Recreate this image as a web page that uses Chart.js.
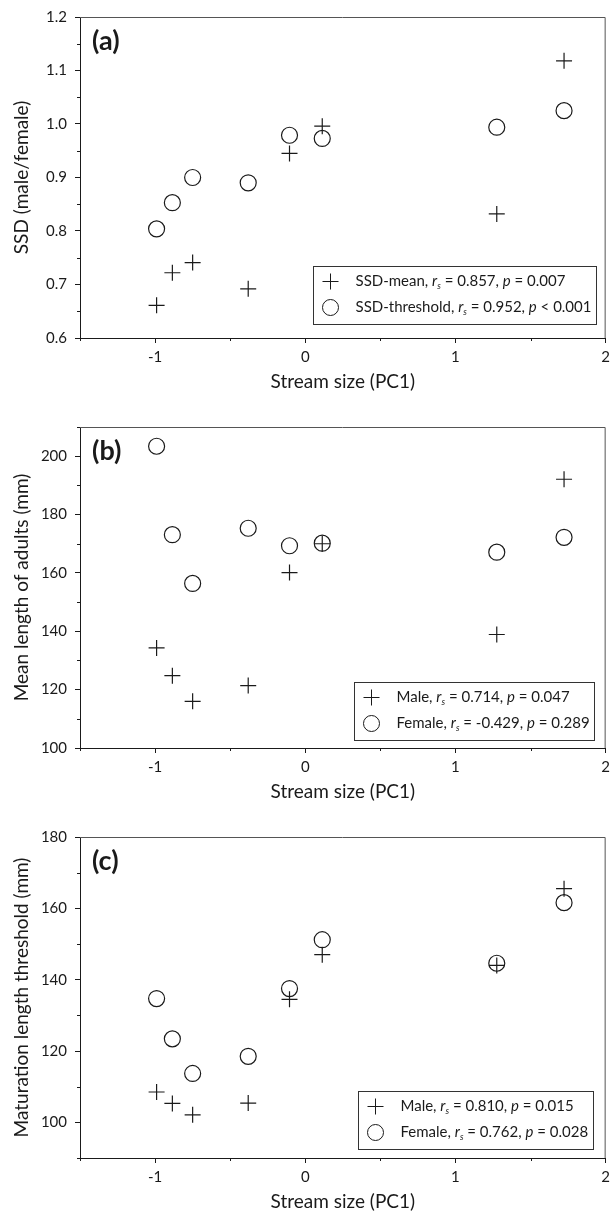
<!DOCTYPE html>
<html>
<head>
<meta charset="utf-8">
<script src="https://cdn.jsdelivr.net/npm/chart.js@4.4.1/dist/chart.umd.min.js"></script>
<style>
  html, body { margin: 0; padding: 0; background: #fff; overflow: hidden; }
  canvas { display: block; }
</style>
</head>
<body>
<canvas id="chartA" width="615" height="410"></canvas>
<canvas id="chartB" width="615" height="410"></canvas>
<canvas id="chartC" width="615" height="410"></canvas>
<script>
// stream size (PC1) of the eight streams, same for all panels
const streamSize = [-0.99, -0.885, -0.75, -0.38, -0.105, 0.113, 1.275, 1.723];

// (a) sexual size dimorphism (male/female)
const ssdMean = [0.661, 0.722, 0.741, 0.692, 0.945, 0.996, 0.832, 1.118];
const ssdThreshold = [0.804, 0.853, 0.900, 0.890, 0.979, 0.973, 0.994, 1.025];

// (b) mean length of adults (mm)
const maleMeanLength = [134.3, 124.8, 116.0, 121.4, 160.1, 170.0, 138.9, 192.1];
const femaleMeanLength = [203.4, 173.1, 156.4, 175.3, 169.3, 170.2, 167.1, 172.2];

// (c) maturation length threshold (mm)
const maleThreshold = [108.5, 105.3, 102.1, 105.4, 134.5, 147.0, 144.0, 165.5];
const femaleThreshold = [134.7, 123.4, 113.7, 118.5, 137.5, 151.2, 144.6, 161.6];

// tick values
const xTicks = [-1, 0, 1, 2];
const xMinorTicks = [-1.5, -0.5, 0.5, 1.5];
const ssdTicks = [0.6, 0.7, 0.8, 0.9, 1.0, 1.1, 1.2];
const ssdMinorTicks = [0.65, 0.75, 0.85, 0.95, 1.05, 1.15];
const meanLengthTicks = [100, 120, 140, 160, 180, 200];
const meanLengthMinorTicks = [110, 130, 150, 170, 190, 210];
const thresholdTicks = [100, 120, 140, 160, 180];
const thresholdMinorTicks = [90, 110, 130, 150, 170];

// legend rows: label, Spearman r_s, p
const ssdLegend = [['SSD-mean', '0.857', '= 0.007'], ['SSD-threshold', '0.952', '< 0.001']];
const meanLengthLegend = [['Male', '0.714', '= 0.047'], ['Female', '-0.429', '= 0.289']];
const thresholdLegend = [['Male', '0.810', '= 0.015'], ['Female', '0.762', '= 0.028']];

const FONT = 'Lato, "Noto Sans", sans-serif';
const INK = '#1a1a1a';
const LEGEND_SIZE = 15;

function segFont(s) {
  const fs = s.sub ? LEGEND_SIZE * 0.6 : LEGEND_SIZE;
  return (s.it ? 'italic ' : '') + fs + 'px ' + FONT;
}

function legendSegs(row) {
  return [
    { t: row[0] + ', ' },
    { t: 'r', it: true },
    { t: 's', it: true, sub: true },
    { t: ' = ' + row[1] + ', ' },
    { t: 'p', it: true },
    { t: ' ' + row[2] }
  ];
}

function textWidth(ctx, segs) {
  let w = 0;
  segs.forEach(s => { ctx.font = segFont(s); w += ctx.measureText(s.t).width; });
  return w;
}

function drawRich(ctx, segs, x, y) {
  segs.forEach(s => {
    ctx.font = segFont(s);
    ctx.fillText(s.t, x, y + (s.sub ? LEGEND_SIZE * 0.32 : 0));
    x += ctx.measureText(s.t).width;
  });
}

// box edges, minor ticks, panel letter and legend
const decor = {
  id: 'decor',
  afterDraw(chart, args, opts) {
    const { ctx, chartArea: a, scales: { x, y } } = chart;
    ctx.save();
    ctx.lineWidth = 1;
    ctx.strokeStyle = '#555';
    ctx.beginPath();
    ctx.moveTo(a.left, a.top + 0.5);
    ctx.lineTo(a.right - 0.5, a.top + 0.5);
    ctx.lineTo(a.right - 0.5, a.bottom);
    ctx.stroke();

    ctx.strokeStyle = INK;
    ctx.beginPath();
    xMinorTicks.forEach(v => {
      const px = Math.round(x.getPixelForValue(v)) + 0.5;
      ctx.moveTo(px, a.bottom); ctx.lineTo(px, a.bottom + 3);
    });
    opts.yMinor.forEach(v => {
      const py = Math.round(y.getPixelForValue(v)) + 0.5;
      ctx.moveTo(a.left, py); ctx.lineTo(a.left - 3, py);
    });
    ctx.stroke();

    // panel letter
    ctx.fillStyle = INK;
    ctx.textBaseline = 'middle';
    ctx.font = 'bold 27px ' + FONT;
    ctx.fillText(opts.letter, a.left + 12, a.top + 24);

    // legend
    const maxW = Math.max(...opts.legend.map(row => textWidth(ctx, legendSegs(row))));
    const bw = Math.round(42 + maxW + 5), bh = 58;
    const bx = Math.round(a.right - opts.legendRight - bw) + 0.5;
    const by = Math.round(a.bottom - opts.legendBottom - bh) + 0.5;
    ctx.fillStyle = '#fff';
    ctx.fillRect(bx, by, bw, bh);
    ctx.strokeStyle = '#333';
    ctx.strokeRect(bx, by, bw, bh);
    const styles = ['cross', 'circle'];
    opts.legend.forEach((row, i) => {
      const cy = by + 15 + i * 26;
      ctx.strokeStyle = INK;
      ctx.fillStyle = '#fff';
      Chart.helpers.drawPoint(ctx, { pointStyle: styles[i], radius: 8, borderWidth: 1.2, rotation: 0 }, bx + 17, cy);
      ctx.fillStyle = INK;
      drawRich(ctx, legendSegs(row), bx + 42, cy);
    });
    ctx.restore();
  }
};

function makePanel(id, opts) {
  const ticksFrom = list => scale => { scale.ticks = list.map(v => ({ value: v })); };
  return new Chart(document.getElementById(id), {
    type: 'scatter',
    data: {
      datasets: [
        {
          data: streamSize.map((x, i) => ({ x, y: opts.plus[i] })),
          pointStyle: 'cross', pointRadius: 8, pointBorderWidth: 1.2,
          borderColor: INK, backgroundColor: 'transparent'
        },
        {
          data: streamSize.map((x, i) => ({ x, y: opts.circle[i] })),
          pointStyle: 'circle', pointRadius: 8, pointBorderWidth: 1.2,
          borderColor: INK, backgroundColor: 'transparent'
        }
      ]
    },
    options: {
      responsive: false,
      animation: false,
      events: [],
      layout: { padding: { top: 13, right: 9, left: 0, bottom: 0 } },
      plugins: {
        legend: { display: false },
        tooltip: { enabled: false },
        decor: { letter: opts.letter, yMinor: opts.yMinor, legend: opts.legend,
                 legendRight: opts.legendRight, legendBottom: opts.legendBottom }
      },
      scales: {
        x: {
          type: 'linear', min: -1.5, max: 2,
          afterBuildTicks: ticksFrom(xTicks),
          afterFit: s => { s.height = 72; },
          ticks: { font: { family: FONT, size: 15 }, color: INK, padding: 5, maxRotation: 0, callback: v => String(v) },
          grid: { drawOnChartArea: false, tickLength: 5, tickColor: INK },
          border: { color: INK, width: 1 },
          title: { display: true, text: 'Stream size (PC1)', color: INK,
                   font: { family: FONT, size: 19 }, padding: { top: 0, bottom: 17 } }
        },
        y: {
          type: 'linear', min: opts.yMin, max: opts.yMax,
          afterBuildTicks: ticksFrom(opts.yTicks),
          afterFit: s => { s.width = 80; },
          ticks: { font: { family: FONT, size: 15 }, color: INK, padding: 8, callback: opts.yFormat },
          grid: { drawOnChartArea: false, tickLength: 5, tickColor: INK },
          border: { color: INK, width: 1 },
          title: { display: true, text: opts.yTitle, color: INK,
                   font: { family: FONT, size: 19 }, padding: { top: 10, bottom: 0 } }
        }
      }
    },
    plugins: [decor]
  });
}

makePanel('chartA', {
  letter: '(a)', plus: ssdMean, circle: ssdThreshold,
  yMin: 0.6, yMax: 1.2, yTicks: ssdTicks, yMinor: ssdMinorTicks,
  yFormat: v => v.toFixed(1), yTitle: 'SSD (male/female)',
  legend: ssdLegend, legendRight: 10, legendBottom: 14
});
makePanel('chartB', {
  letter: '(b)', plus: maleMeanLength, circle: femaleMeanLength,
  yMin: 100, yMax: 210, yTicks: meanLengthTicks, yMinor: meanLengthMinorTicks,
  yFormat: v => String(v), yTitle: 'Mean length of adults (mm)',
  legend: meanLengthLegend, legendRight: 12, legendBottom: 8
});
makePanel('chartC', {
  letter: '(c)', plus: maleThreshold, circle: femaleThreshold,
  yMin: 90, yMax: 180, yTicks: thresholdTicks, yMinor: thresholdMinorTicks,
  yFormat: v => String(v), yTitle: 'Maturation length threshold (mm)',
  legend: thresholdLegend, legendRight: 13, legendBottom: 9
});
</script>
</body>
</html>
